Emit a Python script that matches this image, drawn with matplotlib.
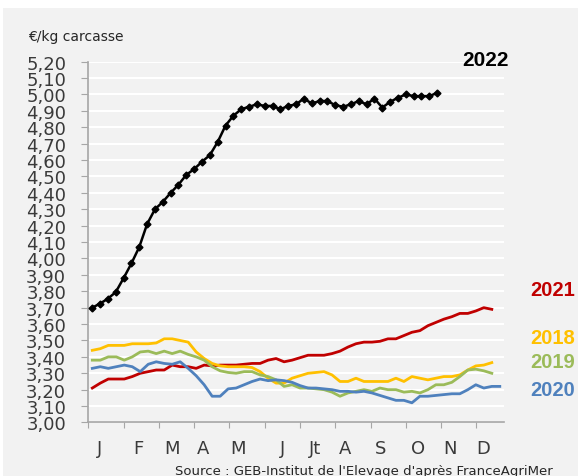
import numpy as np
import matplotlib.pyplot as plt
from matplotlib.patches import Rectangle

# prix hebdomadaires, €/kg carcasse
y2022 = [3.70, 3.725, 3.755, 3.795, 3.88, 3.97, 4.07, 4.21, 4.30, 4.345,
         4.40, 4.45, 4.51, 4.545, 4.59, 4.63, 4.71, 4.81, 4.87, 4.91,
         4.925, 4.94, 4.93, 4.93, 4.91, 4.93, 4.94, 4.975, 4.945, 4.96,
         4.96, 4.935, 4.925, 4.94, 4.96, 4.94, 4.975, 4.92, 4.955, 4.98,
         5.00, 4.99, 4.99, 4.99, 5.01]
y2021 = [3.21, 3.24, 3.265, 3.265, 3.265, 3.28, 3.30, 3.31, 3.32, 3.32,
         3.35, 3.34, 3.34, 3.33, 3.35, 3.345, 3.35, 3.35, 3.35, 3.355,
         3.36, 3.36, 3.38, 3.39, 3.37, 3.38, 3.395, 3.41, 3.41, 3.41,
         3.42, 3.435, 3.46, 3.48, 3.49, 3.49, 3.495, 3.51, 3.51, 3.53,
         3.55, 3.56, 3.59, 3.61, 3.63, 3.645, 3.665, 3.665, 3.68, 3.70,
         3.69]
y2018 = [3.44, 3.45, 3.47, 3.47, 3.47, 3.48, 3.48, 3.48, 3.485, 3.51,
         3.51, 3.50, 3.49, 3.43, 3.39, 3.36, 3.345, 3.34, 3.34, 3.34,
         3.335, 3.31, 3.27, 3.24, 3.24, 3.27, 3.285, 3.30, 3.305, 3.31,
         3.29, 3.25, 3.25, 3.27, 3.25, 3.25, 3.25, 3.25, 3.27, 3.25,
         3.28, 3.27, 3.26, 3.27, 3.28, 3.28, 3.29, 3.32, 3.345, 3.35,
         3.365]
y2019 = [3.38, 3.38, 3.40, 3.40, 3.38, 3.40, 3.43, 3.435, 3.42, 3.435,
         3.42, 3.435, 3.415, 3.40, 3.38, 3.34, 3.315, 3.305, 3.30, 3.31,
         3.31, 3.29, 3.28, 3.26, 3.22, 3.23, 3.21, 3.21, 3.205, 3.20,
         3.185, 3.16, 3.18, 3.19, 3.20, 3.19, 3.21, 3.20, 3.20, 3.185,
         3.19, 3.18, 3.20, 3.23, 3.23, 3.245, 3.28, 3.32, 3.325, 3.315,
         3.30]
y2020 = [3.33, 3.34, 3.33, 3.34, 3.35, 3.34, 3.31, 3.355, 3.37, 3.36,
         3.355, 3.37, 3.33, 3.285, 3.23, 3.16, 3.16, 3.205, 3.21, 3.23,
         3.25, 3.265, 3.255, 3.26, 3.255, 3.245, 3.225, 3.21, 3.21, 3.205,
         3.20, 3.19, 3.19, 3.185, 3.19, 3.18, 3.165, 3.15, 3.135, 3.135,
         3.12, 3.16, 3.16, 3.165, 3.17, 3.175, 3.175, 3.20, 3.23, 3.21,
         3.22, 3.22]

months = ['J', 'F', 'M', 'A', 'M', 'J', 'Jt', 'A', 'S', 'O', 'N', 'D']
month_pos = [1.46, 6.22, 10.47, 14.35, 18.74, 24.25, 28.38, 32.13, 36.64,
             41.28, 45.28, 49.4]

series = [
    ('2021', y2021, '#c00000', 0.391),
    ('2018', y2018, '#ffc000', 0.291),
    ('2019', y2019, '#9bbb59', 0.239),
    ('2020', y2020, '#4f81bd', 0.182),
]

fig = plt.figure(figsize=(5.78, 4.77), dpi=100)
fig.patches.append(Rectangle((3 / 578, 0), 1, 468 / 477, transform=fig.transFigure,
                             facecolor='#f2f2f2', edgecolor='none', zorder=-10))
ax = fig.add_axes([0.1528, 0.1122, 0.7188, 0.7564])
ax.set_facecolor('#f2f2f2')

for name, vals, col, ty in series:
    x = np.arange(len(vals)) + 0.5
    ax.plot(x, vals, color=col, lw=2.0, solid_joinstyle='round', zorder=3)
    fig.text(0.995, ty, name, color=col, fontsize=14.5, fontweight='bold',
             family='Liberation Sans', ha='right', va='center')

x22 = (np.arange(len(y2022)) + 0.5) * 52 / 53
ax.plot(x22, y2022, color='black', lw=1.8, marker='D', ms=3.5, zorder=4)
fig.text(0.88, 0.874, '2022', color='black', fontsize=15, fontweight='bold',
         family='Liberation Sans', ha='right', va='center')

ax.set_xlim(0, 52)
ax.set_ylim(3.0, 5.2)
ax.set_yticks(np.arange(3.0, 5.201, 0.1))
ax.set_yticklabels([f'{v:.2f}'.replace('.', ',') for v in np.arange(3.0, 5.201, 0.1)],
                   fontsize=13, color='#3a3a3a')
ax.grid(axis='y', color='white', lw=1.5)
ax.set_axisbelow(True)

ax.set_xticks(np.arange(12) * 53 / 12)
ax.set_xticklabels([])
ax.set_xticks(month_pos, minor=True)
ax.set_xticklabels(months, minor=True, fontsize=13, color='#3a3a3a')
ax.tick_params(axis='x', which='minor', length=0, pad=12)
ax.tick_params(axis='x', which='major', length=4, color='#a6a6a6')
ax.tick_params(axis='y', length=5, color='#a6a6a6', pad=11)

for s in ['top', 'right']:
    ax.spines[s].set_visible(False)
for s in ['left', 'bottom']:
    ax.spines[s].set_color('#a6a6a6')
    ax.spines[s].set_linewidth(1.2)

fig.text(0.048, 0.922, '€/kg carcasse', fontsize=10, color='#262626', va='center')
fig.text(0.302, -0.002, "Source : GEB-Institut de l'Elevage d'après FranceAgriMer",
         fontsize=9.5, color='#262626', va='bottom')

fig.savefig('out.png', dpi=100)
